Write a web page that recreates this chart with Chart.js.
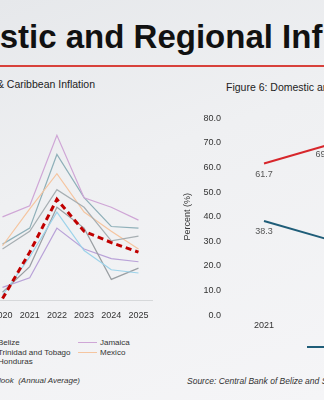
<!DOCTYPE html>
<html>
<head>
<meta charset="utf-8">
<script src="https://cdn.jsdelivr.net/npm/chart.js@4.4.1/dist/chart.umd.min.js"></script>
<style>
  html, body { margin: 0; padding: 0; }
  body {
    width: 324px; height: 400px; overflow: hidden; position: relative;
    background: linear-gradient(160deg, #e6e8eb 0%, #eff0f2 40%, #f5f5f7 100%);
    font-family: Arial, "Liberation Sans", sans-serif; color: #222;
  }
  .abs { position: absolute; white-space: nowrap; }
  #title { left: -92px; top: 20px; font-size: 33px; line-height: 33px; font-weight: bold; color: #111; }
  #rule { left: 0; top: 65px; width: 324px; height: 2px; background: #d8413b; }
  #fig5 { right: 229px; top: 78px; font-size: 10.5px; line-height: 12px; }
  #fig6 { left: 226px; top: 81px; font-size: 10.5px; line-height: 12px; }
  #wrap5 { left: -17px; top: 108px; width: 175px; height: 223px; }
  #wrap6 { left: 180px; top: 105px; width: 189px; height: 231px; }
  .src { top: 376px; font-size: 8px; line-height: 10px; font-style: italic; color: #333; }
  #src5 { right: 244px; }
  #src6 { left: 187px; font-size: 8.5px; }
  .legend { display: grid; font-size: 8px; color: #333; }
  #legend5 { left: -126px; top: 338px; grid-template-columns: repeat(3, 102px); }
  #legend6 { left: 307px; top: 342px; grid-template-columns: repeat(2, 90px); }
  .item { display: flex; align-items: center; height: 9.5px; }
  .swatch { width: 19px; height: 0; margin-right: 3px; border-top-style: solid; }
</style>
</head>
<body>
<div class="abs" id="title">Domestic and Regional Inflation</div>
<div class="abs" id="rule"></div>

<div class="abs" id="fig5">Figure 5: Regional &amp; Caribbean Inflation</div>
<div class="abs" id="wrap5"><canvas id="regional"></canvas></div>
<div class="abs legend" id="legend5"></div>
<div class="abs src" id="src5">Source: IMF World Economic Outlook&nbsp; (Annual Average)</div>

<div class="abs" id="fig6">Figure 6: Domestic and Imported Inflation</div>
<div class="abs" id="wrap6"><canvas id="domestic"></canvas></div>
<div class="abs legend" id="legend6"></div>
<div class="abs src" id="src6">Source: Central Bank of Belize and Statistical Institute of Belize</div>

<script>
  /* ---------- DATA ---------- */
  const years5 = ["2020", "2021", "2022", "2023", "2024", "2025"];
  const guatemala = [3.2, 4.3, 6.9, 5.8, 3.7, 4.0];
  const belize = [0.1, 3.0, 6.3, 4.3, 3.6, 3.0];
  const jamaica = [5.2, 5.9, 10.3, 6.4, 5.8, 5.0];
  const costaRica = [0.3, 2.7, 5.5, 3.1, 1.9, 1.7];
  const trinidad = [0.5, 2.1, 5.8, 4.5, 1.3, 2.0];
  const mexico = [3.4, 5.7, 7.9, 5.5, 4.3, 3.2];
  const elSalvador = [0.8, 1.4, 4.5, 3.2, 2.6, 2.4];
  const honduras = [3.5, 4.5, 9.1, 6.4, 4.6, 4.5];

  const years6 = ["2021", "2022"];
  const imported = [38.3, 30.1];
  const domestic = [61.7, 69.9];
  const yTicks6 = [0, 10, 20, 30, 40, 50, 60, 70, 80];

  const font = "Arial, 'Liberation Sans', sans-serif";
  Chart.defaults.font.family = font;
  Chart.defaults.color = "#333";

  /* ---------- FIGURE 5: REGIONAL LINES ---------- */
  // legend order runs across the rows
  const regional = [
    { label: "Guatemala", data: guatemala, color: "#a7afb3", width: 1.2 },
    { label: "Belize", data: belize, color: "#c00000", width: 3, dash: [6, 4] },
    { label: "Jamaica", data: jamaica, color: "#cfa6d6", width: 1.2 },
    { label: "Costa Rica", data: costaRica, color: "#9dd3ea", width: 1.2 },
    { label: "Trinidad and Tobago", data: trinidad, color: "#9a9fa3", width: 1.2 },
    { label: "Mexico", data: mexico, color: "#f5c5a0", width: 1.2 },
    { label: "El Salvador", data: elSalvador, color: "#b9a2d8", width: 1.2 },
    { label: "Honduras", data: honduras, color: "#8fb0b9", width: 1.2 },
  ];

  new Chart(document.getElementById("regional"), {
    type: "line",
    data: {
      labels: years5,
      datasets: regional.map((s) => ({
        label: s.label,
        data: s.data,
        borderColor: s.color,
        borderWidth: s.width,
        borderDash: s.dash || [],
        pointRadius: 0,
        tension: 0,
        order: s.dash ? 0 : 1,
      })),
    },
    options: {
      responsive: true,
      maintainAspectRatio: false,
      animation: false,
      plugins: { legend: { display: false }, tooltip: { enabled: false } },
      scales: {
        x: {
          offset: true,
          grid: { display: false, drawTicks: false },
          border: { color: "#d6d8da", width: 1 },
          ticks: { color: "#333", font: { size: 9 }, padding: 10 },
        },
        y: { display: false, min: 0, max: 12 },
      },
    },
  });

  const legend5 = document.getElementById("legend5");
  regional.forEach((s) => {
    const item = document.createElement("div");
    item.className = "item";
    const sw = document.createElement("span");
    sw.className = "swatch";
    sw.style.borderTopColor = s.color;
    sw.style.borderTopWidth = (s.dash ? 2 : 1.2) + "px";
    if (s.dash) sw.style.borderTopStyle = "dashed";
    item.appendChild(sw);
    item.appendChild(document.createTextNode(s.label));
    legend5.appendChild(item);
  });

  /* ---------- FIGURE 6: DOMESTIC VS IMPORTED ---------- */
  // labelAlign: text alignment of each value label against its point
  const shares = [
    { label: "Imported", data: imported, color: "#1f5d78", labelAlign: ["center", "center"] },
    { label: "Domestic", data: domestic, color: "#d7262b", labelAlign: ["center", "right"] },
  ];

  // value under each point
  const valueLabels = {
    id: "valueLabels",
    afterDatasetsDraw(chart) {
      const { ctx } = chart;
      ctx.save();
      ctx.font = "9px " + font;
      ctx.fillStyle = "#555";
      ctx.textBaseline = "middle";
      chart.data.datasets.forEach((ds, i) => {
        chart.getDatasetMeta(i).data.forEach((pt, j) => {
          const align = shares[i].labelAlign[j];
          ctx.textAlign = align;
          const dx = align === "right" ? 1 : 0;
          ctx.fillText(ds.data[j].toFixed(1), pt.x - dx, pt.y + 11);
        });
      });
      ctx.restore();
    },
  };

  new Chart(document.getElementById("domestic"), {
    type: "line",
    data: {
      labels: years6,
      datasets: shares.map((s) => ({
        label: s.label,
        data: s.data,
        borderColor: s.color,
        borderWidth: 2,
        pointRadius: 0,
        tension: 0,
      })),
    },
    options: {
      responsive: true,
      maintainAspectRatio: false,
      animation: false,
      layout: { padding: { top: 10 } },
      plugins: { legend: { display: false }, tooltip: { enabled: false } },
      scales: {
        x: {
          offset: true,
          grid: { display: false, drawTicks: false },
          border: { display: false },
          ticks: { color: "#333", font: { size: 9 }, padding: 5 },
        },
        y: {
          min: 0,
          max: 80,
          afterBuildTicks: (scale) => {
            scale.ticks = yTicks6.map((v) => ({ value: v }));
          },
          afterFit: (scale) => {
            scale.width = 49;
          },
          grid: { display: false, drawTicks: false },
          border: { display: false },
          ticks: {
            color: "#333",
            font: { size: 9 },
            padding: 8,
            callback: (v) => v.toFixed(1),
          },
          title: {
            display: true,
            text: "Percent (%)",
            color: "#333",
            font: { size: 9 },
            padding: { top: 2, bottom: 0 },
          },
        },
      },
    },
    plugins: [valueLabels],
  });

  const legend6 = document.getElementById("legend6");
  shares.forEach((s) => {
    const item = document.createElement("div");
    item.className = "item";
    const sw = document.createElement("span");
    sw.className = "swatch";
    sw.style.borderTopColor = s.color;
    sw.style.borderTopWidth = "2px";
    item.appendChild(sw);
    item.appendChild(document.createTextNode(s.label));
    legend6.appendChild(item);
  });
</script>
</body>
</html>
